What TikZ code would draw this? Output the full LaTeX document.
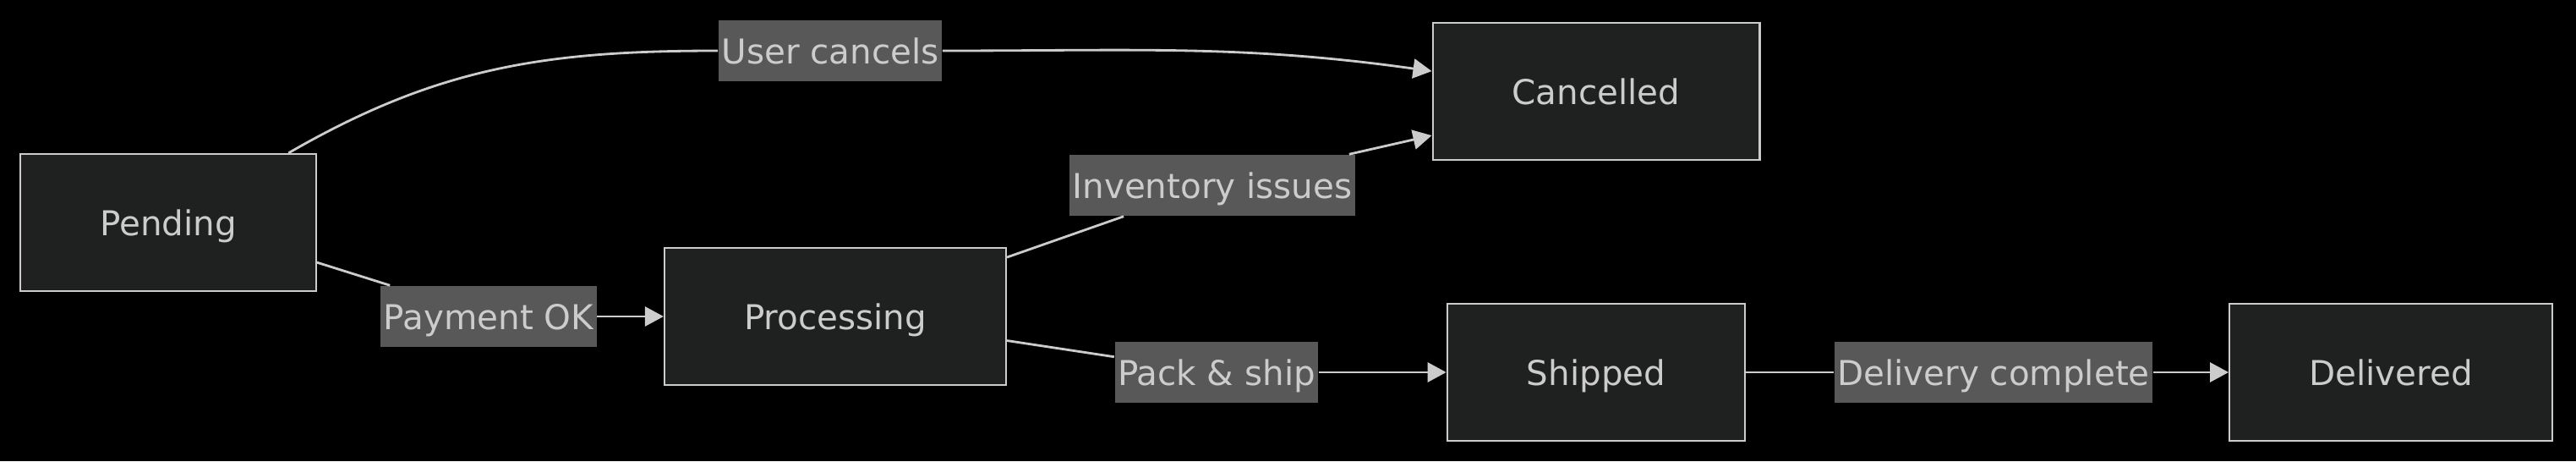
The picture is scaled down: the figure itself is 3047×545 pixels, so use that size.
\documentclass[tikz,border=0pt]{standalone}
\usepackage{fontspec}
\setmainfont{DejaVu Sans}
\usepackage{xcolor}
\usepackage{tikz}
\usetikzlibrary{arrows.meta}
\definecolor{dkbg}{HTML}{000000}
\definecolor{dknode}{HTML}{1F2020}
\definecolor{dkline}{HTML}{CCCCCC}
\definecolor{dklabel}{HTML}{585858}

\begin{document}
\begin{tikzpicture}[x=0.01cm, y=0.01cm,
  statebox/.style={draw=dkline, fill=dknode, line width=0.6pt, text=dkline,
    minimum height=1.62cm, inner xsep=0.94cm, text height=0.31cm, text depth=0cm,
    font=\fontsize{11.5}{14}\selectfont},
  elabel/.style={fill=dklabel, text=dkline, minimum height=0.72cm, inner xsep=1pt,
    text height=0.31cm, text depth=0cm, font=\fontsize{11.5}{14}\selectfont},
  flowline/.style={draw=dkline, line width=0.8pt},
  flowarrow/.style={flowline, -{Triangle[length=0.22cm, width=0.23cm]}}]

  %% Background
  \useasboundingbox (0,0) rectangle (3047,545);
  \fill[dkbg] (0,0) rectangle (3047,545);

  %% States
  \node[statebox] (pending)    at (199,282)  {Pending};
  \node[statebox] (processing) at (988,171)  {Processing};
  \node[statebox] (cancelled)  at (1888,437) {Cancelled};
  \node[statebox] (shipped)    at (1888,105) {Shipped};
  \node[statebox] (delivered)  at (2828,105) {Delivered};

  %% Edge labels
  \node[elabel] (lcancel) at (982,485)  {User cancels};
  \node[elabel] (lpay)    at (578,171)  {Payment OK};
  \node[elabel] (linv)    at (1434,326) {Inventory issues};
  \node[elabel] (lpack)   at (1439,105) {Pack \& ship};
  \node[elabel] (ldeliv)  at (2358,105) {Delivery complete};

  %% Transitions
  \draw[flowline] (pending.30) to[out=30, in=180] (lcancel);
  \draw[flowarrow] (lcancel) to[out=0, in=172] (cancelled.173);
  \draw[flowline] (pending.-15) -- (lpay);
  \draw[flowarrow] (lpay) -- (processing);
  \draw[flowline] (processing.19) -- (linv);
  \draw[flowarrow] (linv) -- (cancelled.-165);
  \draw[flowline] (processing.-8) -- (lpack);
  \draw[flowarrow] (lpack) -- (shipped);
  \draw[flowline] (shipped) -- (ldeliv);
  \draw[flowarrow] (ldeliv) -- (delivered);

\end{tikzpicture}
\end{document}
